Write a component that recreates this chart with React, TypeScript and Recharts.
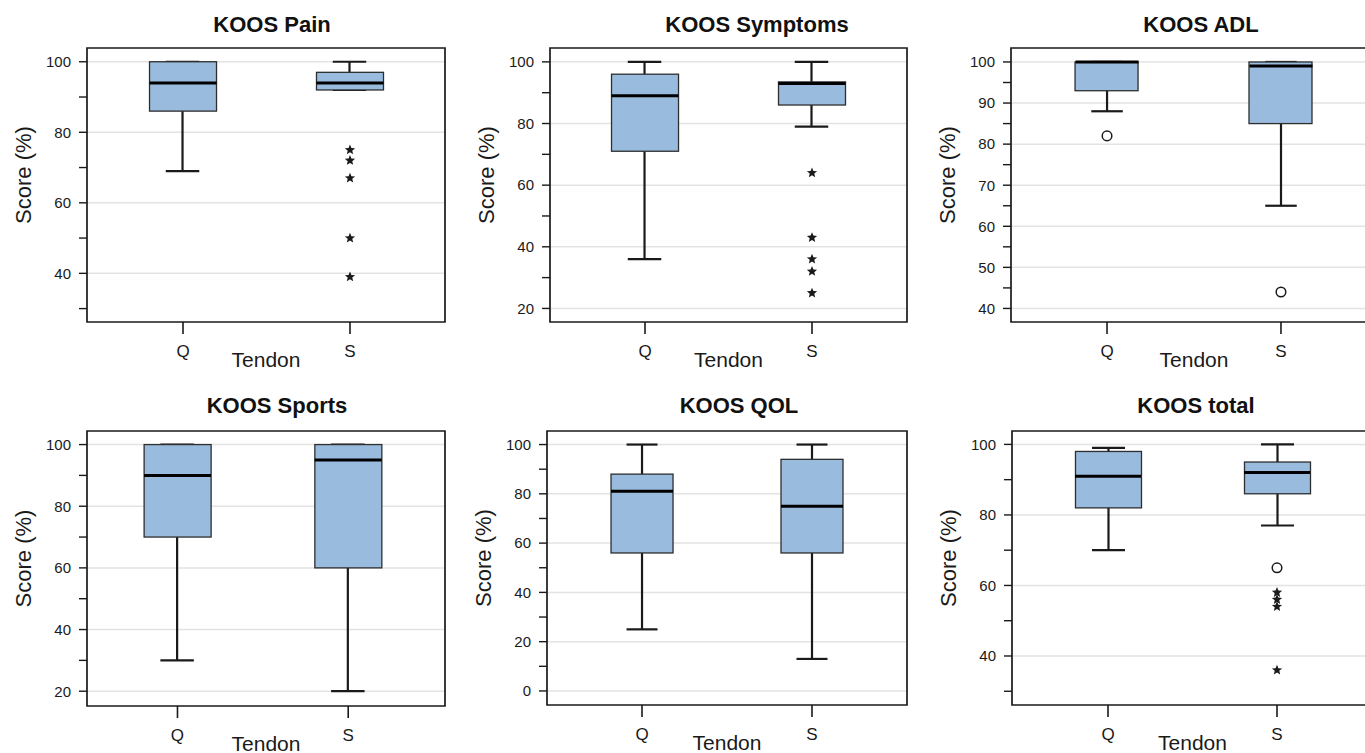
import React from "react";
import {
  ComposedChart,
  Bar,
  Scatter,
  XAxis,
  YAxis,
  CartesianGrid,
  ReferenceArea,
} from "recharts";

const panelTitles = ["KOOS Pain", "KOOS Symptoms", "KOOS ADL", "KOOS Sports", "KOOS QOL", "KOOS total"];
const tendons = ["Q", "S"];

// five-number summaries, one [Q, S] pair per panel
const whiskerLow = [[69, 92], [36, 79], [88, 65], [30, 20], [25, 13], [70, 77]];
const lowerQuartile = [[86, 92], [71, 86], [93, 85], [70, 60], [56, 56], [82, 86]];
const medians = [[94, 94], [89, 93], [100, 99], [90, 95], [81, 75], [91, 92]];
const upperQuartile = [[100, 97], [96, 93.5], [100, 100], [100, 100], [88, 94], [98, 95]];
const whiskerHigh = [[100, 100], [100, 100], [100, 100], [100, 100], [100, 100], [99, 100]];

// outliers: circles (o) and extremes (*)
const outliers = [[[], []], [[], []], [[82], [44]], [[], []], [[], []], [[], [65]]];
const extremes = [
  [[], [75, 72, 67, 50, 39]],
  [[], [64, 43, 36, 32, 25]],
  [[], []],
  [[], []],
  [[], []],
  [[], [58, 56, 54, 36]],
];

// y axes
const yMajor = [
  [40, 60, 80, 100],
  [20, 40, 60, 80, 100],
  [40, 50, 60, 70, 80, 90, 100],
  [20, 40, 60, 80, 100],
  [0, 20, 40, 60, 80, 100],
  [40, 60, 80, 100],
];
const yMinor = [
  [30, 50, 70, 90],
  [30, 50, 70, 90],
  [45, 55, 65, 75, 85, 95],
  [30, 50, 70, 90],
  [10, 30, 50, 70, 90],
  [30, 50, 70, 90],
];
const yDomains = [[26.2, 103.9], [15.6, 104.5], [36.7, 103.4], [15.2, 104.4], [-5.7, 105.5], [26.1, 103.8]];
const xDomains = [[0.425, 2.569], [0.431, 2.569], [0.448, 2.552], [0.47, 2.567], [0.441, 2.559], [0.432, 2.568]];

// plot frame of each panel on the page: left, top, width, height
const frames = [
  [87, 48, 358, 274],
  [550, 48, 357, 274],
  [1011, 48, 366, 274],
  [87, 431, 358, 275],
  [547, 431, 360, 274],
  [1012, 431, 361, 274],
];
const titleCenters = [272, 757, 1201, 277, 739, 1196];
const boxWidths = [67, 67, 63, 67, 62, 66];

const FONT = '"Liberation Sans", Arial, sans-serif';
const INK = "#1a1a1a";
const BOX_FILL = "#99bcde";
const ML = 87;
const MT = 10;
const MR = 12;
const MB = 52;

function WhiskerShape(props: any) {
  const { x, y, width, height, capWidth } = props;
  const cx = x + width / 2;
  const top = Math.min(y, y + height);
  const bottom = Math.max(y, y + height);
  return (
    <g stroke={INK} strokeWidth={2.2}>
      <line x1={cx} x2={cx} y1={top} y2={bottom} />
      <line x1={cx - capWidth / 2} x2={cx + capWidth / 2} y1={top} y2={top} />
      <line x1={cx - capWidth / 2} x2={cx + capWidth / 2} y1={bottom} y2={bottom} />
    </g>
  );
}

function BoxShape(props: any) {
  const { x, y, width, height } = props;
  return (
    <rect
      x={x}
      y={Math.min(y, y + height)}
      width={width}
      height={Math.abs(height)}
      fill={BOX_FILL}
      stroke="#2e2e2e"
      strokeWidth={1.3}
    />
  );
}

function MedianShape(props: any) {
  const { cx, cy, w } = props;
  return <line x1={cx - w / 2} x2={cx + w / 2} y1={cy} y2={cy} stroke="#000" strokeWidth={3} />;
}

function CircleShape(props: any) {
  return <circle cx={props.cx} cy={props.cy} r={4.8} fill="#fff" stroke={INK} strokeWidth={1.5} />;
}

function StarShape(props: any) {
  const { cx, cy } = props;
  const pts = [];
  for (let k = 0; k < 10; k++) {
    const a = -Math.PI / 2 + (k * Math.PI) / 5;
    const r = k % 2 === 0 ? 5.4 : 2.4;
    pts.push(`${cx + r * Math.cos(a)},${cy + r * Math.sin(a)}`);
  }
  return <polygon points={pts.join(" ")} fill={INK} />;
}

function ScoreLabel(props: any) {
  const { x, y, width, height } = props.viewBox;
  const lx = x + width - 64;
  const ly = y + height / 2 - 10;
  return (
    <text
      x={lx}
      y={ly}
      transform={`rotate(-90 ${lx} ${ly})`}
      textAnchor="middle"
      dominantBaseline="central"
      fontSize={22}
      fontFamily={FONT}
      fill={INK}
    >
      Score (%)
    </text>
  );
}

function TendonLabel(props: any) {
  const { x, y, width } = props.viewBox;
  return (
    <text
      x={x + width / 2}
      y={y + 37}
      textAnchor="middle"
      dominantBaseline="central"
      fontSize={21}
      fontFamily={FONT}
      fill={INK}
    >
      Tendon
    </text>
  );
}

function Panel({ i }: { i: number }) {
  const [left, top, w, h] = frames[i];
  const rows = tendons.map((t, k) => ({
    x: k + 1,
    whisker: [whiskerLow[i][k], whiskerHigh[i][k]],
    box: [lowerQuartile[i][k], upperQuartile[i][k]],
    median: medians[i][k],
  }));
  const circles = tendons.flatMap((t, k) => outliers[i][k].map((y) => ({ x: k + 1, y })));
  const stars = tendons.flatMap((t, k) => extremes[i][k].map((y) => ({ x: k + 1, y })));
  const majors = yMajor[i];
  const ticks = [...yMajor[i], ...yMinor[i]].sort((a, b) => a - b);
  const boxW = boxWidths[i];
  const xd = xDomains[i];
  const yd = yDomains[i];

  return (
    <div style={{ position: "absolute", left: left - ML, top: top - MT }}>
      <ComposedChart
        width={ML + w + MR}
        height={MT + h + MB}
        data={rows}
        margin={{ top: MT, right: MR, bottom: 0, left: 0 }}
      >
        <CartesianGrid vertical={false} horizontalValues={majors} stroke="#e3e3e3" strokeWidth={1.5} />
        <XAxis
          type="number"
          dataKey="x"
          domain={xd}
          allowDataOverflow
          ticks={[1, 2]}
          interval={0}
          tickFormatter={(v) => tendons[v - 1]}
          height={MB}
          tickSize={12}
          tickMargin={11}
          axisLine={false}
          tickLine={{ stroke: INK, strokeWidth: 1.6 }}
          tick={{ fontSize: 17, fill: INK, fontFamily: FONT }}
          label={{ content: (p: any) => <TendonLabel {...p} /> }}
        />
        <XAxis xAxisId="whisker" type="number" dataKey="x" domain={xd} allowDataOverflow hide />
        <XAxis xAxisId="box" type="number" dataKey="x" domain={xd} allowDataOverflow hide />
        <YAxis
          type="number"
          domain={yd}
          allowDataOverflow
          ticks={ticks}
          interval={0}
          tickFormatter={(v) => (majors.includes(v) ? String(v) : "")}
          width={ML}
          tickSize={8}
          tickMargin={8}
          axisLine={false}
          tickLine={{ stroke: INK, strokeWidth: 1.4 }}
          tick={{ fontSize: 15, fill: INK, fontFamily: FONT }}
          label={{ content: (p: any) => <ScoreLabel {...p} /> }}
        />
        <Bar
          xAxisId="whisker"
          dataKey="whisker"
          barSize={2}
          shape={(p: any) => <WhiskerShape {...p} capWidth={boxW / 2} />}
          isAnimationActive={false}
        />
        <Bar xAxisId="box" dataKey="box" barSize={boxW} shape={BoxShape} isAnimationActive={false} />
        <Scatter dataKey="median" shape={(p: any) => <MedianShape {...p} w={boxW} />} isAnimationActive={false} />
        <Scatter data={circles} dataKey="y" shape={CircleShape} isAnimationActive={false} />
        <Scatter data={stars} dataKey="y" shape={StarShape} isAnimationActive={false} />
        <ReferenceArea
          x1={xd[0]}
          x2={xd[1]}
          y1={yd[0]}
          y2={yd[1]}
          fill="none"
          stroke={INK}
          strokeWidth={1.7}
          ifOverflow="visible"
        />
      </ComposedChart>
    </div>
  );
}

export default function App() {
  return (
    <div
      style={{
        position: "fixed",
        left: 0,
        top: 0,
        width: 1365,
        height: 753,
        overflow: "hidden",
        background: "#fff",
        fontFamily: FONT,
      }}
    >
      {panelTitles.map((t, i) => (
        <div
          key={"title-" + t}
          style={{
            position: "absolute",
            left: titleCenters[i],
            top: i < 3 ? 13.8 : 394.8,
            transform: "translateX(-50%)",
            fontSize: 22,
            fontWeight: "bold",
            lineHeight: 1,
            whiteSpace: "nowrap",
            color: "#111",
          }}
        >
          {t}
        </div>
      ))}
      {panelTitles.map((t, i) => (
        <Panel key={t} i={i} />
      ))}
    </div>
  );
}
